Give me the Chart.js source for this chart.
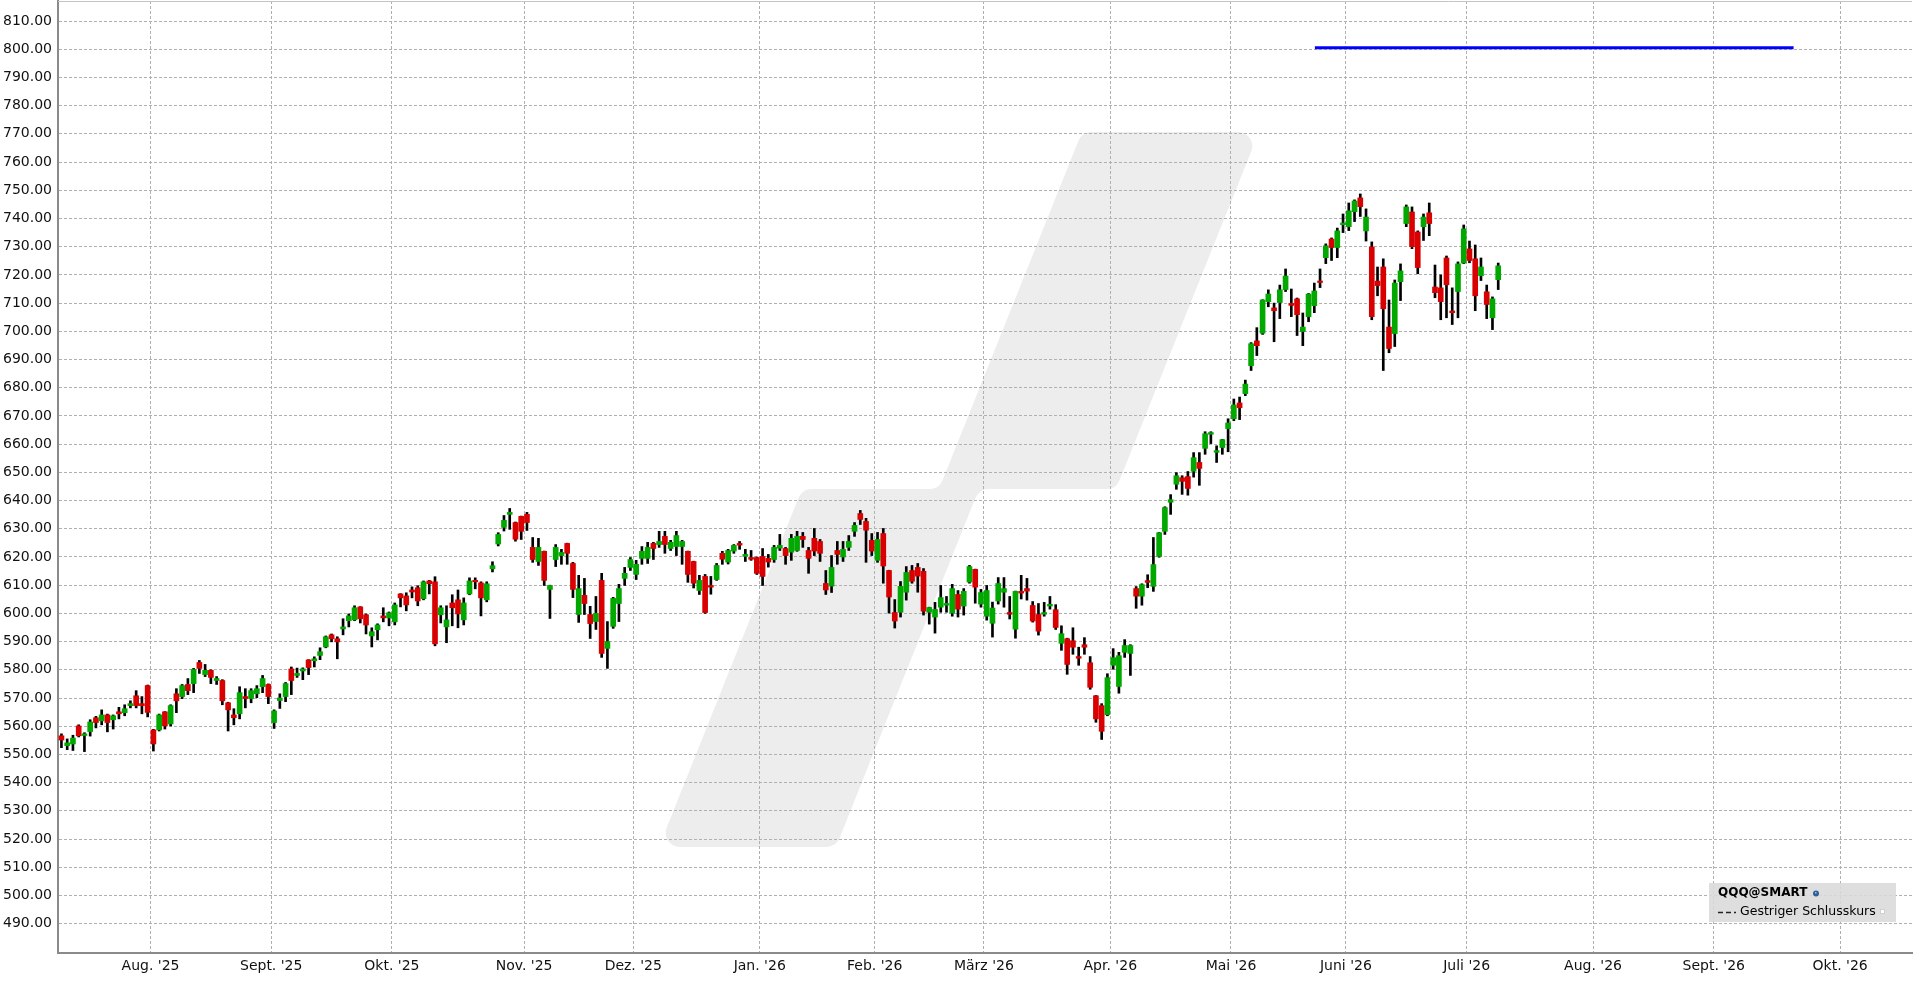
<!DOCTYPE html>
<html>
<head>
<meta charset="utf-8">
<script src="https://cdn.jsdelivr.net/npm/chart.js@4.4.1/dist/chart.umd.min.js"></script>
<style>
  html, body { margin: 0; padding: 0; background: #fff; }
  #wrap { position: relative; width: 1916px; height: 981px; }
</style>
</head>
<body>
<div id="wrap"><canvas id="chart" width="1916" height="981"></canvas></div>
<script>
// one candle per trading day, index 0 = 10 Jul 2025
const opens = [
  556.6, 553.1, 553.7, 560.1, 556.7, 558.1, 563.0, 561.9, 564.0, 562.3,
  565.1, 564.8, 567.3, 570.8, 568.0, 574.4, 558.7, 558.7, 565.1, 560.8,
  571.5, 570.5, 574.8, 575.1, 582.6, 578.3, 579.8, 576.2, 576.2, 568.3,
  564.0, 564.4, 570.5, 569.8, 571.5, 574.0, 574.8, 561.3, 569.1, 570.5,
  580.3, 578.0, 579.6, 583.5, 583.2, 585.1, 588.1, 592.4, 591.0, 594.5,
  597.4, 597.7, 602.3, 599.5, 592.0, 594.2, 599.1, 598.4, 597.0, 606.9,
  606.2, 608.3, 609.1, 605.2, 611.5, 611.2, 599.5, 595.2, 603.7, 604.8,
  597.7, 606.9, 611.5, 610.8, 604.8, 615.8, 624.6, 630.5, 635.1, 632.2,
  634.4, 635.1, 623.4, 618.4, 622.0, 608.5, 619.1, 620.5, 624.8, 617.7,
  599.6, 606.4, 599.6, 597.1, 611.7, 587.6, 595.4, 603.5, 612.4, 616.3,
  613.8, 619.5, 619.5, 624.8, 624.4, 627.3, 623.0, 623.7, 623.7, 622.0,
  618.4, 608.1, 613.1, 609.9, 612.0, 621.3, 618.2, 622.1, 624.8, 620.2,
  619.8, 619.8, 620.2, 619.5, 619.1, 623.1, 623.0, 621.7, 622.3, 627.3,
  622.3, 626.6, 625.5, 610.6, 609.7, 622.3, 620.0, 623.4, 629.1, 635.4,
  632.6, 625.9, 618.8, 628.3, 615.2, 600.3, 600.4, 607.5, 615.2, 616.3,
  614.9, 600.4, 598.7, 602.2, 602.9, 600.1, 606.7, 602.6, 611.1, 615.6,
  603.3, 599.0, 596.5, 604.4, 607.5, 600.3, 594.4, 607.8, 608.8, 602.8,
  599.6, 599.7, 602.6, 601.3, 589.4, 591.0, 590.3, 584.7, 588.9, 582.5,
  570.8, 567.3, 564.1, 581.6, 574.1, 586.2, 585.8, 608.8, 606.1, 611.6,
  609.6, 620.2, 629.1, 639.4, 645.8, 648.1, 648.5, 650.4, 653.5, 658.5,
  663.5, 657.1, 658.8, 665.5, 669.0, 674.6, 677.9, 687.8, 696.6, 699.3,
  710.5, 708.3, 710.2, 714.8, 709.9, 711.5, 699.9, 705.2, 709.1, 717.8,
  726.1, 732.7, 729.7, 737.8, 737.1, 742.4, 747.3, 735.6, 729.9, 717.8,
  722.8, 701.5, 699.2, 717.6, 738.2, 742.3, 735.2, 737.1, 742.0, 715.7,
  715.4, 726.0, 707.2, 714.1, 724.2, 729.2, 725.7, 719.7, 714.0, 704.8,
  718.3
];
const highs = [
  557.3, 555.5, 556.8, 560.5, 557.7, 562.3, 563.5, 565.8, 564.3, 564.0,
  566.7, 567.6, 569.0, 572.6, 570.5, 574.6, 558.9, 564.3, 565.2, 567.6,
  573.3, 574.8, 576.9, 580.5, 583.3, 581.9, 580.0, 577.6, 576.5, 568.5,
  566.2, 574.0, 573.3, 573.3, 574.4, 578.0, 575.0, 565.8, 571.5, 575.5,
  581.0, 580.6, 580.7, 583.6, 584.6, 587.8, 592.0, 592.7, 591.7, 598.1,
  599.8, 602.7, 602.4, 599.8, 594.9, 596.3, 602.0, 600.5, 603.7, 607.0,
  607.3, 609.4, 609.8, 611.5, 611.7, 613.0, 602.7, 602.7, 606.6, 608.3,
  605.5, 612.6, 612.6, 611.2, 611.2, 618.3, 628.6, 634.7, 637.2, 632.4,
  634.5, 635.8, 626.9, 626.6, 622.1, 610.0, 624.4, 622.7, 624.9, 618.1,
  613.5, 612.4, 602.5, 606.0, 614.2, 597.1, 605.7, 610.3, 616.3, 619.8,
  618.8, 623.7, 625.2, 625.2, 629.1, 629.1, 625.9, 629.1, 625.9, 622.1,
  618.5, 613.5, 613.8, 613.1, 617.7, 622.0, 622.7, 624.4, 625.5, 622.7,
  622.3, 620.0, 623.0, 620.9, 624.1, 628.0, 623.4, 628.0, 629.1, 628.7,
  623.4, 630.1, 626.2, 615.2, 620.5, 625.5, 625.5, 627.6, 632.2, 636.5,
  633.7, 628.3, 628.7, 630.1, 615.3, 604.9, 611.3, 616.6, 617.0, 617.7,
  615.9, 602.2, 603.9, 609.9, 606.0, 610.3, 608.1, 608.8, 617.0, 615.7,
  608.5, 609.9, 604.0, 612.7, 612.7, 606.0, 607.9, 613.5, 612.4, 604.2,
  603.5, 603.9, 606.0, 603.1, 595.6, 591.2, 594.9, 588.0, 591.4, 584.7,
  570.9, 568.0, 578.6, 587.5, 586.2, 590.7, 588.9, 609.5, 610.5, 613.7,
  626.9, 628.7, 637.8, 642.1, 649.9, 648.8, 650.3, 657.0, 657.0, 664.4,
  664.4, 659.4, 661.7, 669.0, 676.0, 676.7, 682.7, 696.0, 701.3, 711.2,
  714.7, 710.0, 716.4, 722.1, 715.0, 711.8, 706.5, 713.4, 717.1, 722.1,
  731.0, 733.1, 736.6, 741.6, 745.5, 746.6, 748.7, 743.4, 731.7, 722.8,
  725.7, 711.1, 718.2, 723.9, 744.8, 744.1, 735.6, 741.6, 745.5, 723.5,
  720.0, 726.7, 715.4, 724.6, 737.7, 732.0, 730.6, 726.0, 716.4, 712.2,
  724.2
];
const lows = [
  552.4, 551.7, 551.4, 556.2, 551.0, 556.5, 559.4, 560.5, 558.0, 559.0,
  562.6, 563.7, 566.5, 566.5, 564.4, 563.3, 551.2, 558.3, 559.0, 560.1,
  564.8, 569.8, 571.2, 571.9, 578.7, 577.6, 575.1, 574.8, 567.6, 558.3,
  560.5, 562.6, 566.5, 568.3, 570.1, 571.9, 568.0, 559.2, 566.3, 568.7,
  571.2, 577.3, 576.5, 578.3, 581.0, 583.6, 587.8, 589.9, 583.9, 592.4,
  595.2, 597.4, 596.6, 592.7, 588.1, 590.6, 597.0, 595.6, 595.9, 602.3,
  600.9, 605.5, 602.7, 604.8, 606.9, 588.5, 596.6, 589.6, 595.6, 594.9,
  595.9, 606.6, 608.7, 599.1, 604.1, 614.7, 623.9, 629.2, 629.8, 625.6,
  626.2, 629.4, 618.1, 617.0, 609.9, 598.2, 616.6, 617.4, 617.4, 605.6,
  596.8, 599.6, 591.1, 594.3, 584.4, 580.5, 594.7, 597.1, 609.9, 615.2,
  612.0, 617.4, 617.7, 619.1, 623.4, 621.3, 622.3, 620.5, 617.4, 611.0,
  609.0, 606.7, 600.0, 606.8, 611.7, 617.4, 617.5, 621.3, 622.7, 618.4,
  618.8, 613.8, 609.9, 616.4, 618.1, 622.3, 617.4, 618.8, 622.0, 623.4,
  614.2, 620.5, 618.4, 606.7, 607.4, 617.4, 618.4, 622.3, 627.3, 631.5,
  618.1, 620.5, 618.1, 610.7, 600.1, 594.8, 598.7, 604.7, 610.7, 607.5,
  599.4, 596.2, 593.0, 600.4, 600.4, 599.0, 598.7, 599.4, 610.7, 603.6,
  602.2, 597.6, 591.6, 603.3, 602.2, 598.0, 591.2, 605.1, 604.7, 596.9,
  592.3, 599.0, 601.5, 594.3, 586.9, 578.4, 585.5, 581.6, 585.5, 573.1,
  561.4, 555.3, 563.7, 580.2, 571.7, 584.4, 578.0, 601.8, 602.9, 609.1,
  607.8, 619.9, 628.0, 635.1, 644.0, 642.2, 641.9, 648.3, 645.4, 656.4,
  660.2, 653.5, 656.4, 657.3, 668.3, 668.7, 677.2, 686.1, 691.4, 698.9,
  708.7, 696.3, 704.5, 714.1, 705.2, 698.5, 694.9, 703.4, 706.6, 715.5,
  724.0, 725.1, 726.1, 735.0, 735.7, 738.9, 740.7, 732.0, 704.1, 712.6,
  686.1, 692.4, 694.6, 710.9, 737.1, 729.3, 720.4, 732.2, 733.9, 711.9,
  704.1, 704.8, 702.4, 704.8, 724.0, 724.3, 707.3, 718.0, 704.5, 700.6,
  714.8
];
const closes = [
  555.1, 554.1, 555.8, 556.6, 557.3, 561.5, 561.3, 564.0, 561.3, 563.7,
  564.4, 566.2, 568.0, 567.3, 567.3, 564.9, 553.7, 564.0, 560.1, 567.3,
  569.0, 574.4, 572.6, 580.1, 580.5, 579.8, 577.3, 576.9, 569.0, 565.8,
  563.0, 571.9, 569.8, 572.6, 573.3, 576.9, 570.5, 565.4, 570.0, 575.1,
  576.2, 578.7, 580.3, 580.8, 583.9, 586.4, 591.7, 591.0, 589.9, 595.2,
  599.1, 602.0, 598.1, 595.9, 593.5, 595.9, 598.4, 600.2, 603.0, 605.5,
  603.0, 607.6, 604.4, 611.2, 610.5, 589.2, 602.0, 597.7, 602.0, 599.8,
  603.7, 611.5, 611.2, 605.5, 610.5, 616.9, 628.0, 633.0, 635.8, 626.3,
  629.1, 632.2, 619.1, 623.4, 611.7, 609.9, 623.4, 621.6, 621.3, 608.5,
  608.8, 603.5, 596.4, 600.0, 585.8, 590.0, 605.3, 608.8, 614.2, 619.1,
  617.4, 622.0, 623.4, 623.0, 625.5, 624.4, 625.2, 627.6, 625.5, 613.8,
  610.7, 611.7, 600.3, 609.3, 617.0, 619.2, 622.3, 624.1, 624.2, 620.9,
  619.2, 614.2, 613.1, 618.2, 623.4, 624.1, 620.5, 626.6, 627.3, 626.2,
  619.5, 622.1, 621.3, 608.3, 616.3, 620.9, 622.7, 625.5, 631.2, 633.3,
  629.5, 622.1, 626.2, 616.8, 605.8, 597.3, 609.6, 614.5, 611.4, 613.2,
  600.8, 602.1, 601.4, 605.6, 603.5, 608.8, 601.5, 607.8, 616.6, 609.3,
  607.4, 608.1, 601.9, 610.6, 608.8, 599.7, 607.8, 607.2, 607.9, 597.3,
  593.7, 600.3, 603.2, 595.0, 592.8, 581.9, 588.0, 584.1, 588.0, 573.8,
  562.6, 558.2, 577.2, 584.3, 585.0, 588.6, 588.6, 606.1, 610.2, 611.0,
  617.3, 628.6, 637.5, 640.3, 648.8, 646.8, 644.3, 655.2, 651.4, 663.7,
  664.1, 657.7, 661.6, 667.5, 673.9, 672.9, 681.3, 695.6, 694.9, 711.1,
  713.2, 707.3, 714.7, 719.6, 709.2, 705.9, 701.5, 713.2, 714.3, 717.3,
  730.3, 729.7, 735.6, 738.4, 742.7, 746.2, 744.2, 740.5, 705.2, 716.2,
  708.0, 693.9, 717.1, 721.4, 744.1, 730.0, 722.6, 740.5, 738.2, 713.7,
  710.5, 716.5, 706.6, 723.9, 736.3, 725.1, 712.6, 722.8, 709.5, 711.5,
  723.2
];

// month gridlines sit between the last and first trading day of a month
const monthPos = [15.5, 36.5, 57.5, 80.5, 99.5, 121.5, 141.5, 160.5, 182.5, 203.5, 223.5, 244.5, 266.5, 287.5, 309.5];
const monthLabels = ["Aug. '25", "Sept. '25", "Okt. '25", "Nov. '25", "Dez. '25", "Jan. '26", "Feb. '26",
  "März '26", "Apr. '26", "Mai '26", "Juni '26", "Juli '26", "Aug. '26", "Sept. '26", "Okt. '26"];
const priceTicks = [490, 500, 510, 520, 530, 540, 550, 560, 570, 580, 590, 600, 610, 620, 630, 640,
  650, 660, 670, 680, 690, 700, 710, 720, 730, 740, 750, 760, 770, 780, 790, 800, 810];
const targetStart = 218.1;
const targetEnd = 301.4;
const targetLevel = 800.5;

const UP = '#00a800';
const DOWN = '#d80000';
const FONT = 'DejaVu Sans';

const wickData = highs.map((h, i) => ({ x: i, y: [lows[i], h] }));
const bodyData = opens.map((o, i) => ({ x: i, y: [o, closes[i]] }));
const bodyColors = opens.map((o, i) => (closes[i] >= o ? UP : DOWN));
console.log('candles:', opens.length, highs.length, lows.length, closes.length);

function roundPoly(ctx, pts, r) {
  const n = pts.length;
  const a = pts[n - 1], b = pts[0];
  ctx.beginPath();
  ctx.moveTo((a[0] + b[0]) / 2, (a[1] + b[1]) / 2);
  for (let i = 0; i < n; i++) {
    const p = pts[i], q = pts[(i + 1) % n];
    ctx.arcTo(p[0], p[1], q[0], q[1], r);
  }
  ctx.closePath();
  ctx.fill();
}

// light grey "slash" logo behind the grid, plus the legend box
const background = {
  id: 'background',
  beforeDraw(chart) {
    const ctx = chart.ctx;
    ctx.save();
    ctx.fillStyle = '#ededed';
    roundPoly(ctx, [
      [1082, 132], [1259, 132], [1116, 489], [979, 489],
      [836, 847], [659, 847], [802, 489], [939, 489]
    ], 14);
    ctx.restore();
  },
  afterDraw(chart) {
    const ctx = chart.ctx;
    const { left, right, top } = chart.chartArea;
    ctx.save();
    ctx.strokeStyle = '#c4c4c4';
    ctx.lineWidth = 1;
    ctx.beginPath();
    ctx.moveTo(left, top + 0.5);
    ctx.lineTo(right, top + 0.5);
    ctx.stroke();

    // legend
    ctx.fillStyle = 'rgba(218,218,218,0.88)';
    ctx.fillRect(1709, 883, 187, 39);
    ctx.fillStyle = '#000';
    ctx.textBaseline = 'middle';
    ctx.font = 'bold 12px "' + FONT + '"';
    ctx.fillText('QQQ@SMART', 1718, 893);
    ctx.fillStyle = '#2f5f9a';
    ctx.beginPath();
    ctx.arc(1816, 893.5, 3, 0, Math.PI * 2);
    ctx.fill();
    ctx.fillStyle = '#9cc3e6';
    ctx.fillRect(1815, 892, 1.5, 1.5);

    ctx.strokeStyle = '#222';
    ctx.lineWidth = 1.5;
    ctx.setLineDash([5, 3]);
    ctx.beginPath();
    ctx.moveTo(1718, 912.5);
    ctx.lineTo(1736, 912.5);
    ctx.stroke();
    ctx.setLineDash([]);
    ctx.fillStyle = '#000';
    ctx.font = '12.5px "' + FONT + '"';
    ctx.fillText('Gestriger Schlusskurs', 1740, 912);
    ctx.fillStyle = '#fff';
    ctx.fillRect(1880, 909, 5, 5);
    ctx.strokeStyle = '#d0d0d0';
    ctx.lineWidth = 1;
    ctx.strokeRect(1880.5, 909.5, 4, 4);
    ctx.restore();
  }
};

const chart = new Chart(document.getElementById('chart'), {
  type: 'bar',
  data: {
    datasets: [
      {
        type: 'line',
        data: [{ x: targetStart, y: targetLevel }, { x: targetEnd, y: targetLevel }],
        borderColor: '#0000ff',
        borderWidth: 3,
        pointRadius: 0,
        order: 0,
      },
      {
        data: bodyData,
        backgroundColor: bodyColors,
        borderWidth: 0,
        barThickness: 5,
        minBarLength: 1.5,
        grouped: false,
        order: 1,
      },
      {
        data: wickData,
        backgroundColor: '#000',
        borderWidth: 0,
        barThickness: 2,
        grouped: false,
        order: 2,
      },
    ],
  },
  options: {
    responsive: false,
    animation: false,
    layout: { padding: { top: 1, right: 4, left: 0, bottom: 0 } },
    plugins: {
      legend: { display: false },
      tooltip: { enabled: false },
    },
    scales: {
      x: {
        type: 'linear',
        offset: false,
        min: -0.6,
        max: 322.0,
        afterBuildTicks: (scale) => { scale.ticks = monthPos.map((v) => ({ value: v })); },
        afterFit: (scale) => {
          scale.height = 28;
          scale.paddingLeft = 0;
          scale.paddingRight = 0;
        },
        grid: { color: '#b0b0b0', lineWidth: 1, drawTicks: false, offset: false },
        border: { display: true, color: '#8a8a8a', width: 2, dash: [3, 2] },
        ticks: {
          autoSkip: false,
          maxRotation: 0,
          padding: 5,
          color: '#111',
          font: { family: FONT, size: 14 },
          callback: (v, i) => monthLabels[i],
        },
      },
      y: {
        min: 479.6,
        max: 817.1,
        afterBuildTicks: (scale) => { scale.ticks = priceTicks.map((v) => ({ value: v })); },
        afterFit: (scale) => {
          scale.width = 58;
          scale.paddingTop = 0;
          scale.paddingBottom = 0;
        },
        grid: { color: '#b0b0b0', lineWidth: 1, drawTicks: false },
        border: { display: true, color: '#8a8a8a', width: 2, dash: [3, 2] },
        ticks: {
          padding: 6,
          color: '#111',
          font: { family: FONT, size: 14 },
          callback: (v) => v.toFixed(2),
        },
      },
    },
  },
  plugins: [background],
});
</script>
</body>
</html>
